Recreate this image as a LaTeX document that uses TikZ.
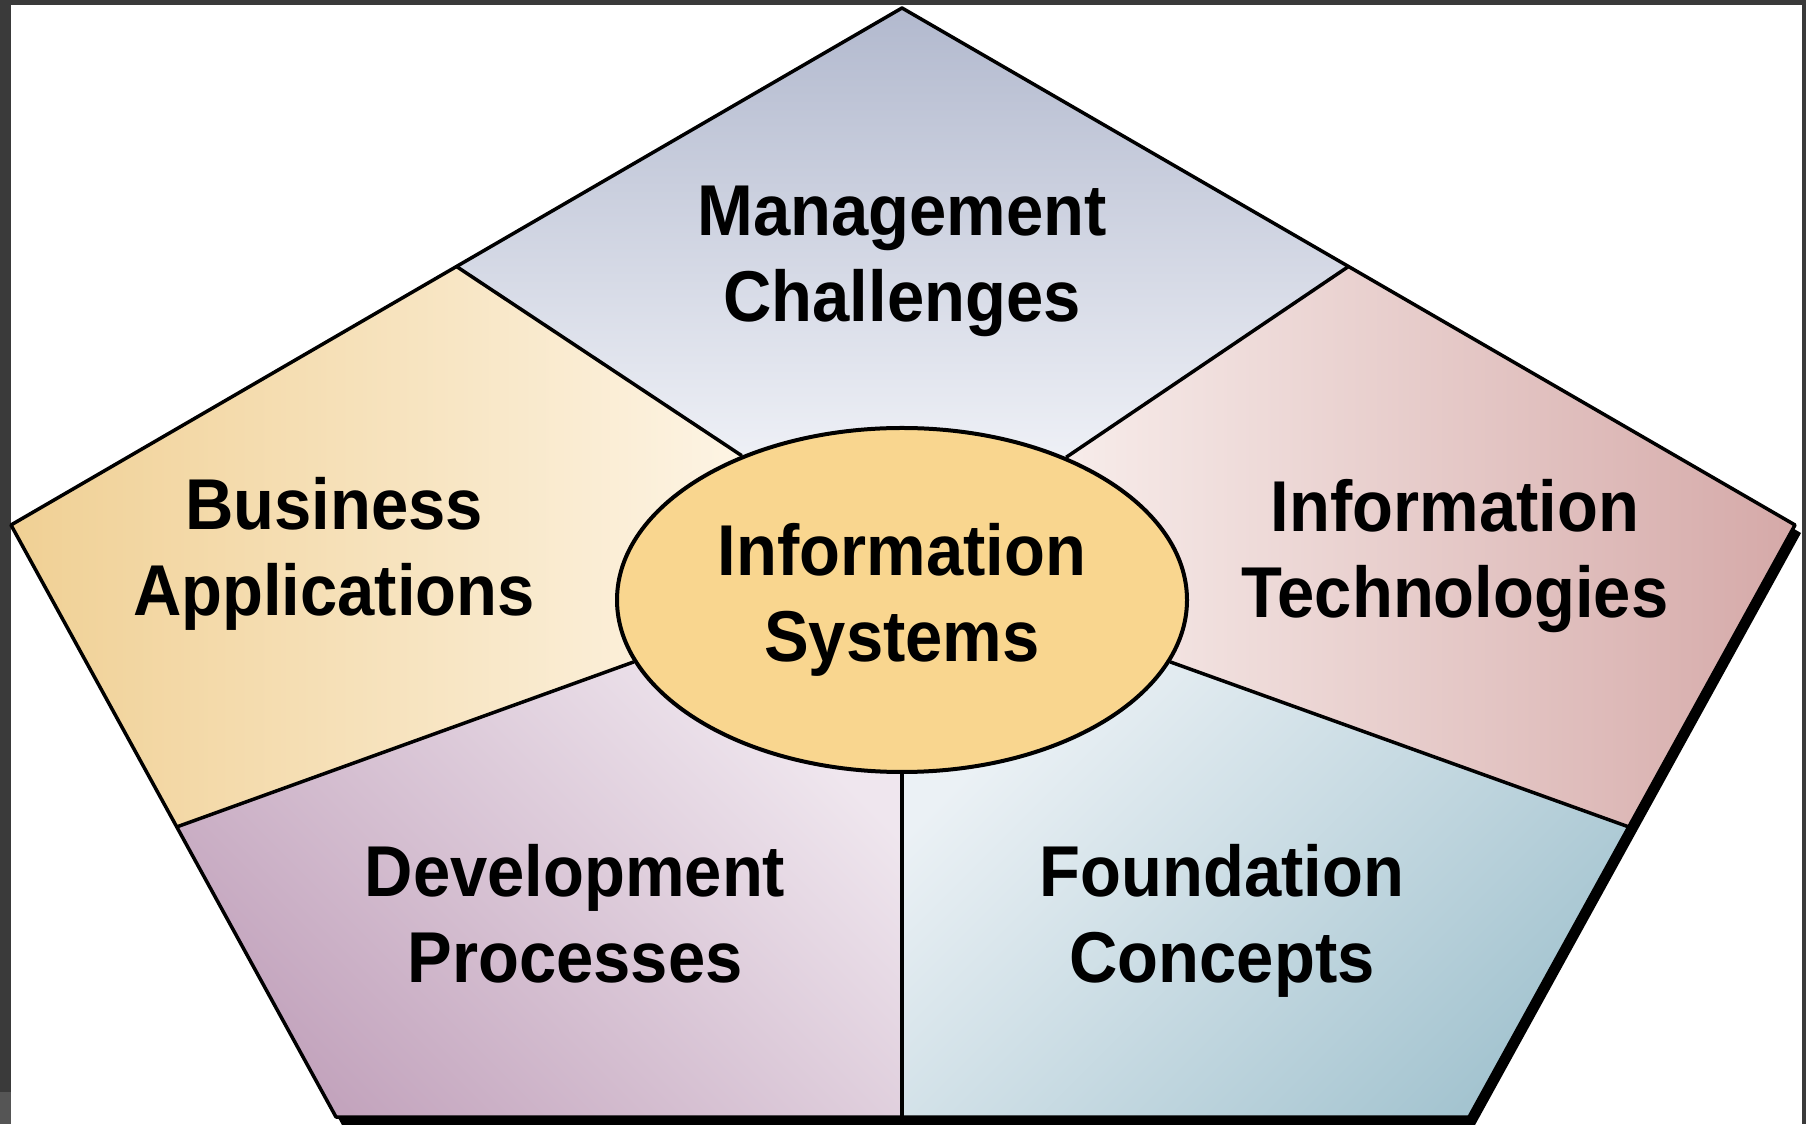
\documentclass[tikz,border=0pt]{standalone}
\usepackage{fontspec}
\newfontfamily\lblfont{Liberation Sans}[FakeStretch=0.93]
\usetikzlibrary{shapes.geometric,calc}
\definecolor{framegray}{HTML}{3A3A3A}
\definecolor{framelow}{HTML}{555555}
\definecolor{mgTop}{HTML}{B2B9CE}
\definecolor{mgBot}{HTML}{EEF0F6}
\definecolor{baL}{HTML}{F0D094}
\definecolor{baR}{HTML}{FDF4E4}
\definecolor{itL}{HTML}{F7ECEA}
\definecolor{itR}{HTML}{D5A9A8}
\definecolor{dvDark}{HTML}{C3A4BD}
\definecolor{dvLight}{HTML}{EFE6EE}
\definecolor{fcLight}{HTML}{EBF1F5}
\definecolor{fcDark}{HTML}{A4C4D0}
\definecolor{isFill}{HTML}{F9D68F}
\pgfdeclarelayer{bg}
\pgfsetlayers{bg,main}
\begin{document}
\begin{tikzpicture}[x=1pt,y=1pt,
  lbl/.style={font=\lblfont\bfseries\fontsize{72}{86}\selectfont, align=center, inner sep=0pt, anchor=north, text=black},
  isnode/.style={ellipse, draw=black, line width=4pt, fill=isFill, minimum width=570pt, minimum height=344pt, inner sep=0pt,
    font=\lblfont\bfseries\fontsize{72}{86}\selectfont, align=center},
  divider/.style={draw=black, line width=3.5pt},
  outline/.style={draw=black, line width=3.5pt, line join=round}]
\useasboundingbox (0,0) rectangle (1806,1124);
% pentagon corners
\coordinate (T) at (902,1116);
\coordinate (L) at (11,599);
\coordinate (R) at (1795,599);
\coordinate (BL) at (336,7);
\coordinate (BR) at (1469,7);
\coordinate (UL) at ($(T)!0.5!(L)$);
\coordinate (UR) at ($(T)!0.5!(R)$);
\coordinate (LL) at ($(L)!0.51!(BL)$);
\coordinate (RL) at ($(R)!0.51!(BR)$);
\coordinate (BM) at (902,7);
% centre
\node[isnode] (IS) at (902,524) {Information\\Systems};
\begin{pgfonlayer}{bg}
  \fill[framegray] (0,0) rectangle (1806,1124);
  \fill[framelow] (0,0) rectangle (11,32);
  \fill[white] (11,0) rectangle (1802,1119);
  % shadow
  \fill[black] ($(T)+(6,-8)$) -- ($(R)+(6,-8)$) -- ($(BR)+(6,-8)$) -- ($(BL)+(6,-8)$) -- ($(L)+(6,-8)$) -- cycle;
  % regions
  \shade[top color=mgTop, bottom color=mgBot] (UL) -- (T) -- (UR) -- (IS.41.3) -- (IS.90) -- (IS.138.5) -- cycle;
  \shade[left color=baL, right color=baR] (L) -- (UL) -- (IS.138.5) -- (IS.180) -- (IS.193.3) -- (LL) -- cycle;
  \shade[left color=itL, right color=itR] (UR) -- (R) -- (RL) -- (IS.347.6) -- (IS.0) -- (IS.41.3) -- cycle;
  \shade[left color=dvDark, right color=dvLight, shading angle=135] (LL) -- (IS.193.3) -- (IS.270) -- (BM) -- (BL) -- cycle;
  \shade[top color=fcLight, bottom color=fcDark, shading angle=45] (BM) -- (IS.270) -- (IS.347.6) -- (RL) -- (BR) -- cycle;
  \draw[outline] (T) -- (R) -- (BR) -- (BL) -- (L) -- cycle;
\end{pgfonlayer}
% dividers
\draw[divider] (UL) -- (IS.138.5);
\draw[divider] (UR) -- (IS.41.3);
\draw[divider] (LL) -- (IS.193.3);
\draw[divider] (RL) -- (IS.347.6);
\draw[divider] (BM) -- (IS.270);
% labels
\node[lbl] (mc) at (902,938) {Management\\Challenges};
\node[lbl] (ba) at (334,647) {Business\\Applications};
\node[lbl] (it) at (1455,645) {Information\\Technologies};
\node[lbl] (dp) at (575,280) {Development\\Processes};
\node[lbl] (fc) at (1222,280) {Foundation\\Concepts};
\end{tikzpicture}
\end{document}
